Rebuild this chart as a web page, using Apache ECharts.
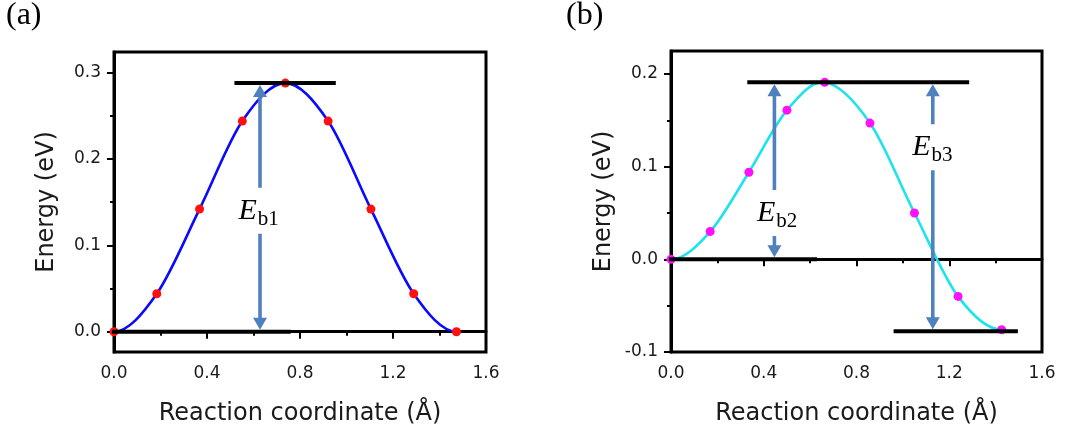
<!DOCTYPE html>
<html>
<head>
<meta charset="utf-8">
<script src="https://cdn.jsdelivr.net/npm/echarts@6/dist/echarts.min.js"></script>
<style>
html,body{margin:0;padding:0;background:#fff;}
#chart{width:1066px;height:432px;}
</style>
</head>
<body>
<div id="chart"></div>
<script>
// ---- data ----
const xA = [0, 0.184, 0.368, 0.552, 0.737, 0.921, 1.105, 1.289, 1.473];
const yA = [0, 0.044, 0.142, 0.244, 0.288, 0.244, 0.142, 0.044, 0];
const xB = [0, 0.169, 0.336, 0.500, 0.663, 0.858, 1.050, 1.238, 1.426];
const yB = [0, 0.030, 0.094, 0.161, 0.191, 0.147, 0.050, -0.040, -0.076];
// level lines: [xStart, xEnd, energy]
const levelsA = [[-0.03, 0.76, 0], [0.518, 0.954, 0.288]];
const levelsB = [[-0.033, 0.63, 0], [0.329, 1.286, 0.191], [0.96, 1.496, -0.0775]];
// barrier arrows: [x, fromEnergy, toEnergy]
const arrowsA = [[0.628, 0, 0.288]];
const arrowsB = [[0.446, 0, 0.191], [1.129, -0.0775, 0.191]];
// barrier labels: [x, energy, subscript]
const labelsA = [[0.622, 0.14, 'b1']];
const labelsB = [[0.458, 0.05, 'b2'], [1.127, 0.121, 'b3']];
const xTicks = [0, 0.4, 0.8, 1.2, 1.6];
const yTicksA = [0, 0.1, 0.2, 0.3];
const yMinorA = [0.05, 0.15, 0.25];
const yTicksB = [-0.1, 0, 0.1, 0.2];
const yMinorB = [-0.05, 0.05, 0.15];
const panelNames = ['(a)', '(b)'];
const xTitle = 'Reaction coordinate (Å)';
const yTitle = 'Energy (eV)';

const SANS = '"DejaVu Sans"';
const SERIF = '"Liberation Serif"';
const TXT = '#1a1a1a';
const ARROW = '#4f81bd';

function xAxisCfg(gi) {
  return {
    type: 'value', gridIndex: gi, min: 0, max: 1.6, interval: 0.4,
    name: xTitle, nameLocation: 'middle', nameGap: 50,
    nameTextStyle: {fontFamily: SANS, fontSize: 24, color: TXT},
    axisLine: {show: true, lineStyle: {color: '#000', width: 3}},
    axisTick: {show: true, length: 7, lineStyle: {color: '#000', width: 2}, customValues: xTicks},
    minorTick: {show: true, splitNumber: 2, length: 4, lineStyle: {color: '#000', width: 2}},
    axisLabel: {fontFamily: SANS, fontSize: 17, color: TXT, margin: 13, customValues: xTicks,
      formatter: v => v.toFixed(1)},
    splitLine: {show: false}, minorSplitLine: {show: false}
  };
}
function yAxisCfg(gi, min, max, ticks) {
  return {
    type: 'value', gridIndex: gi, min: min, max: max,
    name: yTitle, nameLocation: 'middle', nameGap: 55, nameRotate: 90,
    nameTextStyle: {fontFamily: SANS, fontSize: 24, color: TXT},
    axisLine: {show: true, lineStyle: {color: '#000', width: 3}},
    axisTick: {show: true, length: 7, lineStyle: {color: '#000', width: 2}, customValues: ticks},
    axisLabel: {fontFamily: SANS, fontSize: 17, color: TXT, margin: 13, customValues: ticks,
      formatter: v => v.toFixed(1)},
    splitLine: {show: false}
  };
}
function yMinorCfg(gi, min, max, ticks) {
  return {
    type: 'value', gridIndex: gi, min: min, max: max, position: 'left',
    axisLine: {show: false},
    axisTick: {show: true, length: 4, lineStyle: {color: '#000', width: 2}, customValues: ticks},
    axisLabel: {show: false}, splitLine: {show: false}
  };
}

// smooth curve: cubic Hermite segments between the data points, drawn in pixel space
function curveSeries(xi, yi, xs, ys, lineColor) {
  return {
    type: 'custom', xAxisIndex: xi, yAxisIndex: yi, z: 2, silent: true, animation: false,
    data: xs.map((x, i) => [x, ys[i]]),
    renderItem: function (params, api) {
      const i = params.dataIndex;
      const n = xs.length;
      if (i >= n - 1) return null;
      const P = k => api.coord([xs[k], ys[k]]);
      const slope = k => {
        if (k === 0 || k === n - 1) return 0;
        const a = P(k - 1), b = P(k + 1);
        return (b[1] - a[1]) / (b[0] - a[0]);
      };
      const p0 = P(i), p1 = P(i + 1);
      const h = (p1[0] - p0[0]) / 3;
      const m0 = slope(i), m1 = slope(i + 1);
      return {
        type: 'bezierCurve',
        shape: {x1: p0[0], y1: p0[1], x2: p1[0], y2: p1[1],
          cpx1: p0[0] + h, cpy1: p0[1] + m0 * h,
          cpx2: p1[0] - h, cpy2: p1[1] - m1 * h},
        style: {stroke: lineColor, lineWidth: 2.6, fill: null}
      };
    }
  };
}
function dotSeries(xi, yi, xs, ys, dotColor) {
  return {
    type: 'scatter', xAxisIndex: xi, yAxisIndex: yi, clip: false,
    data: xs.map((x, i) => [x, ys[i]]),
    symbol: 'circle', symbolSize: 9,
    itemStyle: {color: dotColor, opacity: 1},
    z: 3, silent: true, animation: false
  };
}
function levelSeries(xi, yi, lv) {
  return lv.map(l => ({
    type: 'line', xAxisIndex: xi, yAxisIndex: yi, clip: false,
    data: [[l[0], l[2]], [l[1], l[2]]],
    showSymbol: false, symbol: 'none',
    lineStyle: {color: '#000', width: 4},
    z: 4, silent: true, animation: false
  }));
}
function arrowSeries(xi, yi, arr) {
  return {
    type: 'custom', xAxisIndex: xi, yAxisIndex: yi, z: 5, silent: true, animation: false,
    data: arr,
    renderItem: function (params, api) {
      const pLow = api.coord([api.value(0), api.value(1)]);
      const pHigh = api.coord([api.value(0), api.value(2)]);
      const x = pLow[0];
      const yb = pLow[1] - 2, yt = pHigh[1] + 2;
      const hl = 12, hw = 7;
      return {
        type: 'group',
        children: [
          {type: 'line', shape: {x1: x, y1: yt + hl - 1, x2: x, y2: yb - hl + 1},
            style: {stroke: ARROW, lineWidth: 3.6}},
          {type: 'polygon', shape: {points: [[x, yt], [x - hw, yt + hl], [x + hw, yt + hl]]},
            style: {fill: ARROW}},
          {type: 'polygon', shape: {points: [[x, yb], [x - hw, yb - hl], [x + hw, yb - hl]]},
            style: {fill: ARROW}}
        ]
      };
    }
  };
}
function labelSeries(xi, yi, labs) {
  return {
    type: 'custom', xAxisIndex: xi, yAxisIndex: yi, z: 6, silent: true, animation: false,
    data: labs,
    renderItem: function (params, api) {
      const p = api.coord([api.value(0), api.value(1)]);
      const sub = labs[params.dataIndex][2];
      return {
        type: 'text', x: p[0], y: p[1],
        style: {
          text: '{e|E}{s|' + sub + '}',
          align: 'center', verticalAlign: 'middle',
          backgroundColor: '#fff', padding: [6, 4, 6, 4],
          rich: {
            e: {fontFamily: SERIF, fontStyle: 'italic', fontSize: 30, fill: '#000', lineHeight: 34},
            s: {fontFamily: SERIF, fontSize: 21, fill: '#000', lineHeight: 21, padding: [17, 0, 0, 1]}
          }
        }
      };
    }
  };
}

const chart = echarts.init(document.getElementById('chart'), null, {renderer: 'canvas'});
chart.setOption({
  animation: false,
  backgroundColor: '#fff',
  title: [
    {text: panelNames[0], left: 6, top: 0, padding: 0,
      textStyle: {fontFamily: SERIF, fontSize: 32, fontWeight: 'normal', color: '#000'}},
    {text: panelNames[1], left: 566, top: 0, padding: 0,
      textStyle: {fontFamily: SERIF, fontSize: 32, fontWeight: 'normal', color: '#000'}}
  ],
  grid: [
    {left: 114, top: 52, width: 372, height: 300, show: true, borderColor: '#000', borderWidth: 3, backgroundColor: 'transparent'},
    {left: 671, top: 51, width: 371, height: 301, show: true, borderColor: '#000', borderWidth: 3, backgroundColor: 'transparent'}
  ],
  xAxis: [xAxisCfg(0), xAxisCfg(1)],
  yAxis: [
    yAxisCfg(0, -0.0235, 0.324, yTicksA),
    yAxisCfg(1, -0.1, 0.2248, yTicksB),
    yMinorCfg(0, -0.0235, 0.324, yMinorA),
    yMinorCfg(1, -0.1, 0.2248, yMinorB)
  ],
  series: [
    curveSeries(0, 0, xA, yA, '#0a0aff'),
    curveSeries(1, 1, xB, yB, '#1ee3ec'),
    dotSeries(0, 0, xA, yA, '#ff1010'),
    dotSeries(1, 1, xB, yB, '#ff10ff'),
    ...levelSeries(0, 0, levelsA),
    ...levelSeries(1, 1, levelsB),
    arrowSeries(0, 0, arrowsA),
    arrowSeries(1, 1, arrowsB),
    labelSeries(0, 0, labelsA),
    labelSeries(1, 1, labelsB)
  ]
});
</script>
</body>
</html>
